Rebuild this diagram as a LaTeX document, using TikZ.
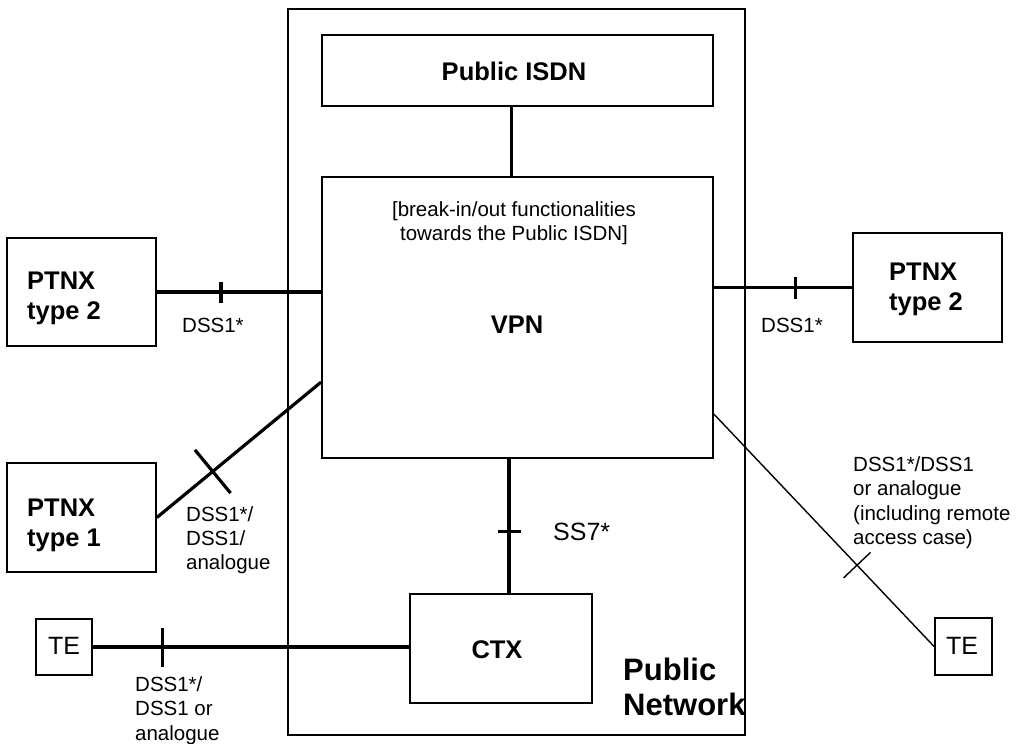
\documentclass[tikz,border=0pt]{standalone}
\usepackage{fontspec}
\setmainfont{Liberation Sans}
\usetikzlibrary{calc}
\begin{document}
\begin{tikzpicture}[x=1pt,y=-1pt,
  box/.style={draw,line width=1.8pt,inner sep=0pt},
  link/.style={line width=3.2pt},
  thinlink/.style={line width=1.4pt},
  txt/.style={inner sep=0pt,font=\fontsize{20.5}{24.5}\selectfont},
  btxt/.style={inner sep=0pt,font=\bfseries\fontsize{25.5}{30}\selectfont},
]
\useasboundingbox (0,0) rectangle (1018,744);

% boxes
\node[box,minimum width=457pt,minimum height=726pt] (net)  at (516.5,372) {};
\node[box,minimum width=391pt,minimum height=71pt]  (isdn) at (517.5,70.5) {};
\node[box,minimum width=391pt,minimum height=281pt] (vpn)  at (517.5,317.5) {};
\node[box,minimum width=182pt,minimum height=109pt] (ctx)  at (501,648.5) {};
\node[box,minimum width=149pt,minimum height=108pt] (p2l)  at (81.5,292) {};
\node[box,minimum width=149pt,minimum height=109pt] (p2r)  at (927.5,287.5) {};
\node[box,minimum width=149pt,minimum height=109pt] (p1)   at (81.5,517.5) {};
\node[box,minimum width=56pt,minimum height=56pt]   (tel)  at (64,647) {};
\node[box,minimum width=57pt,minimum height=57pt]   (ter)  at (963.5,646.5) {};

% box texts
\node[btxt] (isdnlbl) at (514,71) {Public ISDN};
\node[txt,align=center,anchor=north] (vpnnote) at (514,201)
  {[break-in/out functionalities\\towards the Public ISDN]};
\node[btxt] (vpnlbl) at (517,325) {VPN};
\node[btxt] (ctxlbl) at (497,650) {CTX};
\node[btxt,align=left,anchor=north west] (p2llbl) at (27,272) {PTNX\\type 2};
\node[btxt,align=left,anchor=north west] (p2rlbl) at (889,263) {PTNX\\type 2};
\node[btxt,align=left,anchor=north west] (p1lbl) at (27,499) {PTNX\\type 1};
\node[txt,font=\fontsize{25}{30}\selectfont] (tellbl) at (64,646) {TE};
\node[txt,font=\fontsize{25}{30}\selectfont] (terlbl) at (962,646) {TE};
\node[inner sep=0pt,align=left,anchor=north west,
  font=\bfseries\fontsize{31}{35}\selectfont] (netlbl) at (623,658) {Public\\Network};

% connection points
\coordinate (cx1) at (511.5,0);
\coordinate (cx2) at (509,0);
\coordinate (e1) at (p2l.east -| vpn.west);
\coordinate (e2) at (p2r.west -| vpn.east);
\path (vpn.north west) ++(0,206) coordinate (v1);
\path (vpn.north east) ++(0,238) coordinate (v2);
\coordinate (e3) at (tel.east -| ctx.west);

% connectors
\draw[link] (isdn.south -| cx1) -- (vpn.north -| cx1);
\draw[link] (vpn.south -| cx2) -- (ctx.north -| cx2);
\draw[link] (p2l.east) -- (e1);
\draw[link] (e2) -- (p2r.west);
\draw[link] (p1.east) -- (v1);
\draw[link] (tel.east) -- (e3);
\draw[thinlink] (v2) -- (ter.west);

% reference point marks
\path (p2l.east) -- (e1) coordinate[pos=0.39] (t1);
\draw[link] ($(t1)!10.5pt!90:(e1)$) -- ($(t1)!10.5pt!-90:(e1)$);
\path (e2) -- (p2r.west) coordinate[pos=0.59] (t2);
\draw[link] ($(t2)!11pt!90:(p2r.west)$) -- ($(t2)!11pt!-90:(p2r.west)$);
\path (vpn.south -| cx2) -- (ctx.north -| cx2) coordinate[pos=0.54] (t3);
\draw[link] ($(t3)!11.5pt!90:(ctx.north -| cx2)$) -- ($(t3)!11.5pt!-90:(ctx.north -| cx2)$);
\path (tel.east) -- (e3) coordinate[pos=0.22] (t4);
\draw[link] ($(t4)!19.5pt!90:(e3)$) -- ($(t4)!19.5pt!-90:(e3)$);
\path (p1.east) -- (v1) coordinate[pos=0.34] (t5);
\draw[link] ($(t5)!28pt!90:(v1)$) -- ($(t5)!28pt!-90:(v1)$);
\path (v2) -- (ter.west) coordinate[pos=0.65] (t6);
\draw[thinlink] ($(t6)!18.5pt!90:(ter.west)$) -- ($(t6)!18.5pt!-90:(ter.west)$);

% interface labels
\node[txt,anchor=west] (l1) at (182,325) {DSS1*};
\node[txt,anchor=west] (l2) at (761,325) {DSS1*};
\node[txt,anchor=west,font=\fontsize{25}{30}\selectfont] (l3) at (553,532) {SS7*};
\node[txt,align=left,anchor=north west,font=\fontsize{20.5}{24}\selectfont] (l4) at (186,506)
  {DSS1*/\\DSS1/\\analogue};
\node[txt,align=left,anchor=north west] (l5) at (135,676)
  {DSS1*/\\DSS1 or\\analogue};
\node[txt,align=left,anchor=north west] (l6) at (853,456)
  {DSS1*/DSS1\\or analogue\\(including remote\\access case)};
\end{tikzpicture}
\end{document}
